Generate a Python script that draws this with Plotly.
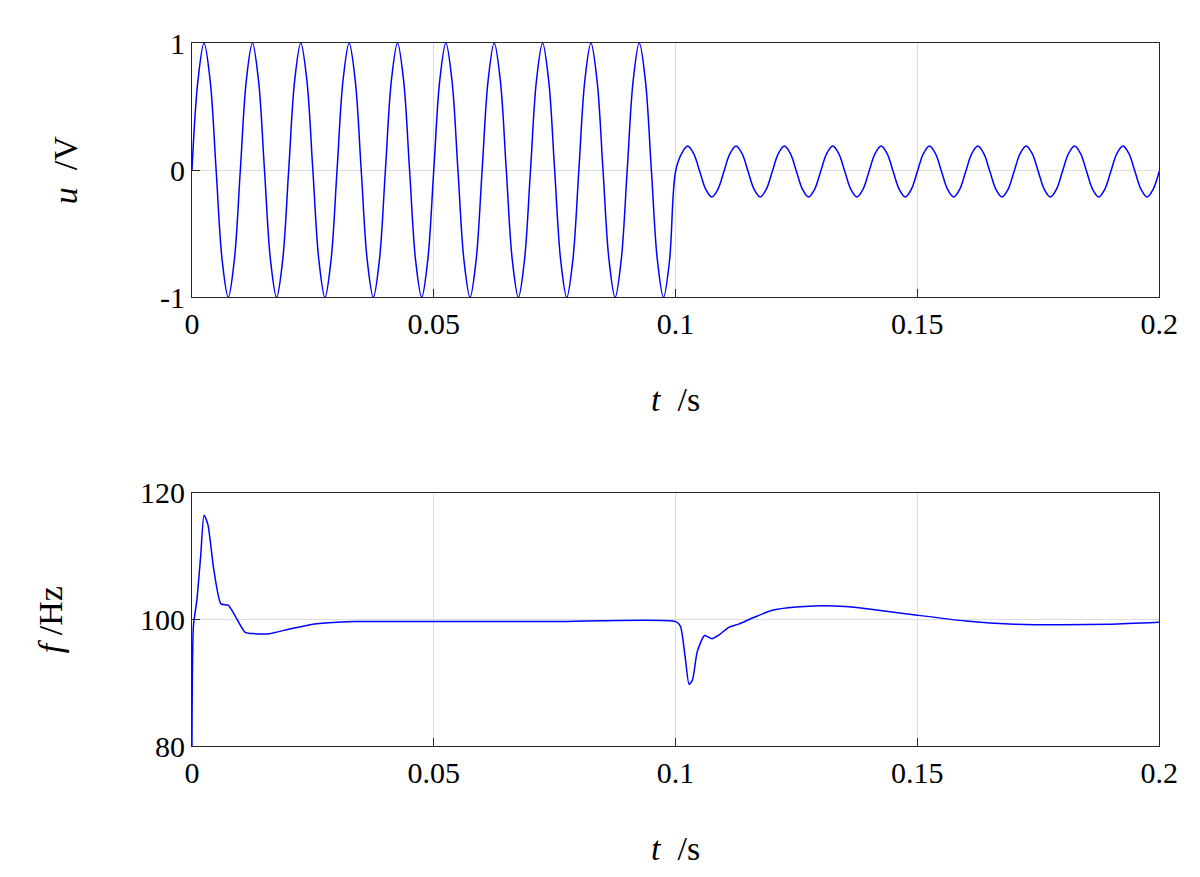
import numpy as np
import plotly.graph_objects as go
from plotly.subplots import make_subplots

# top panel: voltage, sampled every 1/8 period (100 Hz)
t_u1 = np.round(np.arange(0, 0.1 - 1e-9, 0.00125), 5)
u1 = [0, 0.71, 1, 0.71, 0, -0.71, -1, -0.71] * 10
t_u2 = np.round(np.arange(0.1, 0.2 + 1e-9, 0.00125), 5)
u2 = ([-0.01, 0.13, 0.19, 0.13, -0.01, -0.15, -0.21, -0.15] * 11)[:len(t_u2)]

# bottom panel: estimated frequency
t_f = [0, 0.0003, 0.001, 0.0018, 0.0025, 0.0033, 0.0045, 0.006, 0.0075, 0.009,
       0.011, 0.013, 0.016, 0.02, 0.025, 0.03, 0.034, 0.05, 0.075, 0.1,
       0.101, 0.102, 0.1028, 0.1035, 0.1045, 0.106, 0.1075, 0.109, 0.111,
       0.113, 0.116, 0.12, 0.125, 0.13, 0.135, 0.14, 0.15, 0.16, 0.17,
       0.18, 0.19, 0.2]
f = [80, 99, 103, 110, 116.5, 115, 108, 102.5, 102.3, 100.5,
     98, 97.8, 97.8, 98.5, 99.3, 99.6, 99.7, 99.7, 99.7, 99.7,
     99, 94, 89.8, 90.5, 95, 97.5, 97, 97.6, 98.8,
     99.3, 100.3, 101.5, 102, 102.2, 102.1, 101.7, 100.7, 99.8, 99.3,
     99.2, 99.3, 99.6]

fig = make_subplots(rows=2, cols=1, vertical_spacing=0.2)
line = dict(color='#0000ff', width=1.5)
fig.add_trace(go.Scatter(x=list(t_u1) + list(t_u2), y=u1 + u2, mode='lines',
                         line=dict(shape='spline', smoothing=1, **line)), row=1, col=1)
fig.add_trace(go.Scatter(x=t_f, y=f, mode='lines',
                         line=dict(shape='spline', smoothing=0.6, **line)), row=2, col=1)

font = dict(family='Liberation Serif', size=30, color='#000000')
tfont = dict(family='Liberation Serif', size=34, color='#000000')
axis = dict(showline=True, linecolor='#262626', linewidth=1, mirror=True,
            ticks='inside', ticklen=8, tickcolor='#262626', showgrid=True,
            gridcolor='#dcdcdc', zeroline=False, tickfont=font, automargin=False)

fig.update_xaxes(range=[0, 0.2], tickvals=[0, 0.05, 0.1, 0.15, 0.2],
                 ticktext=['0', '0.05', '0.1', '0.15', '0.2'],
                 title=dict(text='<i>t</i>  /s', font=tfont, standoff=47), **axis)
fig.update_xaxes(domain=[0.1533, 0.9593], row=1, col=1)
fig.update_xaxes(domain=[0.1533, 0.9593], row=2, col=1)
fig.update_yaxes(range=[-1, 1], tickvals=[-1, 0, 1], ticktext=['-1', '0', '1'],
                 domain=[0.670, 0.960],
                 title=dict(text='<i>u</i>  /V', font=tfont, standoff=72), row=1, col=1, **axis)
fig.update_yaxes(range=[80, 120], tickvals=[80, 100, 120], domain=[0.158, 0.447],
                 title=dict(text='<i>f</i> /Hz', font=tfont, standoff=67), row=2, col=1, **axis)

fig.update_layout(width=1200, height=877, showlegend=False,
                  margin=dict(l=0, r=0, t=0, b=0),
                  paper_bgcolor='white', plot_bgcolor='white')
fig.write_html("out.html")
